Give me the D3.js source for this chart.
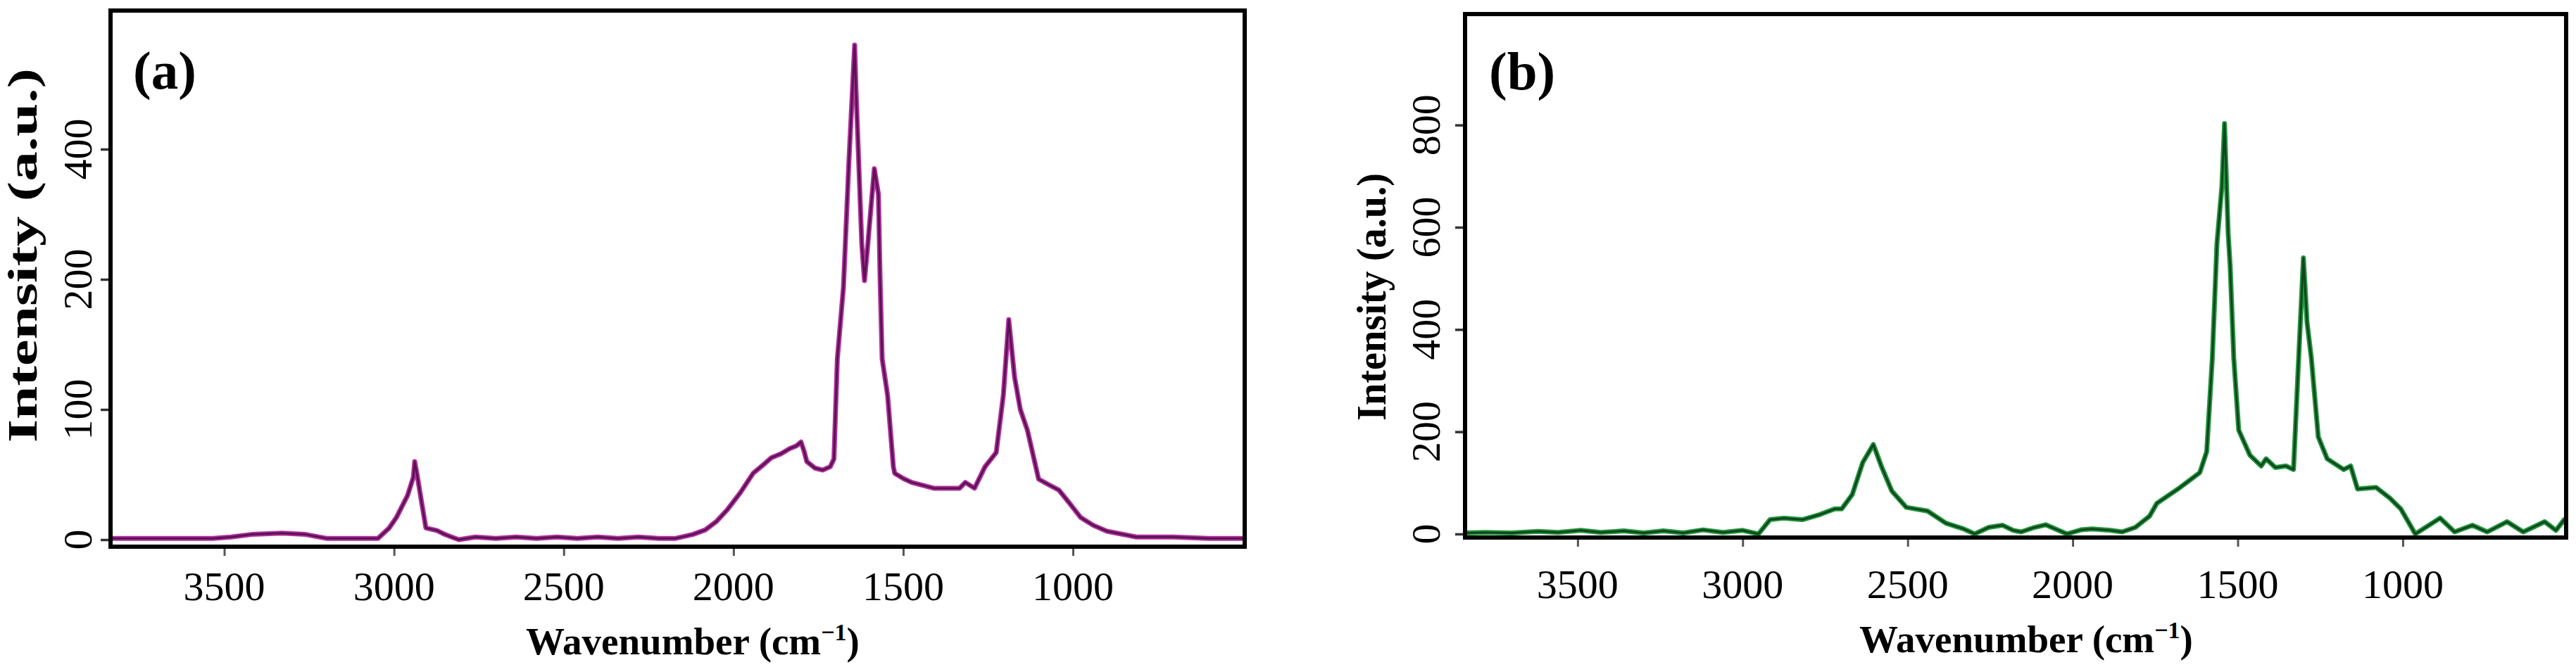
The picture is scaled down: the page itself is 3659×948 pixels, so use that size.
<!DOCTYPE html>
<html>
<head>
<meta charset="utf-8">
<script src="https://cdn.jsdelivr.net/npm/d3@7"></script>
<style>
  html, body { margin: 0; padding: 0; background: #fff; }
  svg { display: block; }
  text { font-family: "Liberation Serif", "Times New Roman", serif; fill: #000; }
</style>
</head>
<body>
<svg id="chart" width="3659" height="948"></svg>
<script>
// ---------------- DATA ----------------
const xTicks = [3500, 3000, 2500, 2000, 1500, 1000];
const xTickLabels = ["3500", "3000", "2500", "2000", "1500", "1000"];

// Panel (a) – y axis labels as printed (0, 100, 200, 400, evenly spaced)
const yTicksA = [0, 100, 200, 400];
const yTickLabelsA = ["0", "100", "200", "400"];
const yTicksB = [0, 200, 400, 600, 800];
const yTickLabelsB = ["0", "200", "400", "600", "800"];

const wavenumberA = [3835,3700,3534,3480,3420,3330,3260,3199,3120,3047,3014,2993,2960,2943,2939,2932,2922,2906,2873,2850,2830,2809,2760,2700,2640,2580,2520,2460,2400,2340,2280,2220,2170,2120,2083,2050,2018,1980,1942,1910,1888,1860,1834,1815,1801,1792,1784,1760,1737,1715,1704,1694,1676,1660,1643,1639,1631,1622,1614,1606,1597,1585,1573,1568,1562,1546,1529,1525,1500,1475,1410,1334,1317,1290,1259,1226,1205,1189,1172,1155,1134,1101,1070,1041,1010,977,940,900,813,705,600,494];
const intensityA  = [1,1,1,2,4,5,4,1,1,1,9,17,34,48,60,50,34,9,7,4,2,0,2,1,2,1,2,1,2,1,2,1,1,4,7.5,14,23,36,51,58,63,66,70,72,75,68,60,55,53.5,56,62,139,194,380,560,491,380,254,199,243,298,370,331,200,139,111,56,51,47,44,39.5,39.5,44,39.5,56,67,111,169,125,100,84,46.5,42,38,28,17,11,6.5,2,2,1,1];

const wavenumberB = [3841,3780,3700,3620,3560,3490,3430,3360,3300,3240,3180,3120,3060,3000,2952,2917,2875,2819,2766,2721,2700,2668,2636,2604,2580,2548,2504,2440,2384,2331,2297,2254,2212,2180,2156,2120,2082,2017,1975,1941,1885,1850,1810,1767,1745,1681,1615,1594,1577,1563,1548,1540,1529,1523,1512,1497,1463,1429,1414,1386,1354,1331,1318,1301,1290,1277,1256,1229,1179,1158,1137,1081,1039,1006,962,887,843,789,744,684,635,570,536,511,505];
const intensityB  = [2,3,2,5,3,7,3,6,2,6,2,8,3,7,0,28,31,28,38,49,49,77,140,175,133,84,52,45,21,10,0,13,17,7,4,12,18,0,8,10,7,4,13,35,60,88,120,161,344,568,680,803,588,525,344,203,154,133,147,130,133,126,308,540,414,344,190,147,126,133,88,91,70,49,0,31,4,17,4,24,4,24,7,28,20];

// ---------------- LAYOUT ----------------
const svg = d3.select("#chart");
const FONT = '"Liberation Serif", "Times New Roman", serif';

const panels = [
  {
    id: "a",
    frame: { left: 157, right: 1768, top: 15, bottom: 777 },
    xDomain: [3835, 494],
    y: d3.scaleLinear().domain(yTicksA).range([767, 582, 397, 212]),
    yTicks: yTicksA, yTickLabels: yTickLabelsA,
    wn: wavenumberA, inten: intensityA,
    color: "#b3309f", core: "#3a0b36",
    letter: "(a)", letterPos: [189, 126],
    yTickLabelX: 130, xTickLabelY: 853,
    yTitle: { x: 52, y: 363, len: 532 },
    xTitle: { x: 984, y: 930 }
  },
  {
    id: "b",
    frame: { left: 2081, right: 3645, top: 20, bottom: 764 },
    xDomain: [3841, 505],
    y: d3.scaleLinear().domain([-7, 1017]).range([764, 20]),
    yTicks: yTicksB, yTickLabels: yTickLabelsB,
    wn: wavenumberB, inten: intensityB,
    color: "#23973f", core: "#0b2a12",
    letter: "(b)", letterPos: [2115, 127],
    yTickLabelX: 2045, xTickLabelY: 850,
    yTitle: { x: 1968, y: 422, len: 352 },
    xTitle: { x: 2878, y: 927 }
  }
];

panels.forEach(p => {
  const f = p.frame;
  const x = d3.scaleLinear().domain(p.xDomain).range([f.left, f.right]);
  const y = p.y;
  const g = svg.append("g").attr("class", "panel-" + p.id);

  // clip
  const clipId = "clip-" + p.id;
  svg.append("defs").append("clipPath").attr("id", clipId)
    .append("rect").attr("x", f.left).attr("y", f.top)
    .attr("width", f.right - f.left).attr("height", f.bottom - f.top);

  // x axis ticks (outward, below frame)
  const xAxis = d3.axisBottom(x).tickValues(xTicks)
    .tickFormat((d, i) => xTickLabels[i]).tickSize(13).tickPadding(0);
  const xg = g.append("g").attr("transform", `translate(0,${f.bottom})`).call(xAxis);
  xg.select(".domain").remove();
  xg.selectAll(".tick line").attr("stroke", "#555").attr("stroke-width", 3);
  xg.selectAll(".tick text").remove();
  g.append("g").selectAll("text").data(xTicks).join("text")
    .attr("x", d => x(d)).attr("y", p.xTickLabelY)
    .attr("text-anchor", "middle")
    .style("font-family", FONT).style("font-size", "58px")
    .text((d, i) => xTickLabels[i]);

  // y axis ticks (outward, left of frame)
  const yAxis = d3.axisLeft(y).tickValues(p.yTicks).tickSize(14).tickFormat("");
  const yg = g.append("g").attr("transform", `translate(${f.left},0)`).call(yAxis);
  yg.select(".domain").remove();
  yg.selectAll(".tick line").attr("stroke", "#333").attr("stroke-width", 3.5);
  g.append("g").selectAll("text").data(p.yTicks).join("text")
    .attr("transform", d => `translate(${p.yTickLabelX},${y(d)}) rotate(-90)`)
    .attr("text-anchor", "middle")
    .style("font-family", FONT).style("font-size", "58px")
    .text((d, i) => p.yTickLabels[i]);

  // data line
  const pts = p.wn.map((w, i) => [w, p.inten[i]]);
  const line = d3.line().x(d => x(d[0])).y(d => y(d[1])).curve(d3.curveLinear);
  const dg = g.append("g").attr("clip-path", `url(#${clipId})`);
  dg.append("path").datum(pts).attr("d", line)
    .attr("fill", "none").attr("stroke", p.color).attr("stroke-width", 7)
    .attr("stroke-linejoin", "round").attr("stroke-linecap", "round");
  dg.append("path").datum(pts).attr("d", line)
    .attr("fill", "none").attr("stroke", p.core).attr("stroke-width", 3)
    .attr("stroke-opacity", 0.75)
    .attr("stroke-linejoin", "round").attr("stroke-linecap", "round");

  // frame
  g.append("rect").attr("x", f.left).attr("y", f.top)
    .attr("width", f.right - f.left).attr("height", f.bottom - f.top)
    .attr("fill", "none").attr("stroke", "#000").attr("stroke-width", 6);

  // panel letter
  g.append("text").attr("x", p.letterPos[0]).attr("y", p.letterPos[1])
    .style("font-family", FONT).style("font-size", "77px").style("font-weight", "bold")
    .text(p.letter);

  // y title
  g.append("text")
    .attr("transform", `translate(${p.yTitle.x},${p.yTitle.y}) rotate(-90)`)
    .attr("text-anchor", "middle")
    .attr("textLength", p.yTitle.len).attr("lengthAdjust", "spacingAndGlyphs")
    .style("font-family", FONT).style("font-size", "60px").style("font-weight", "bold")
    .text("Intensity (a.u.)");

  // x title
  const xt = g.append("text").attr("x", p.xTitle.x).attr("y", p.xTitle.y)
    .attr("text-anchor", "middle")
    .style("font-family", FONT).style("font-size", "55px").style("font-weight", "bold");
  xt.append("tspan").text("Wavenumber (cm");
  xt.append("tspan").attr("dy", -20).style("font-size", "34px").text("\u22121");
  xt.append("tspan").attr("dy", 20).text(")");
});
</script>
</body>
</html>
